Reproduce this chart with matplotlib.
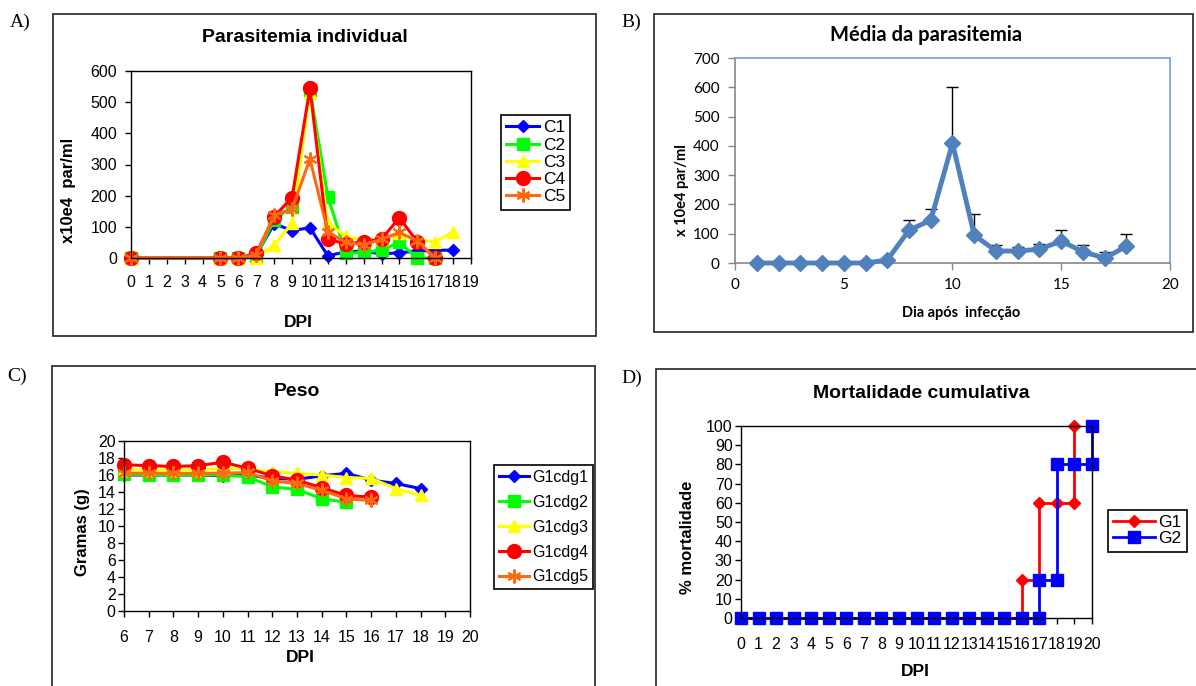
import numpy as np
import matplotlib.pyplot as plt
from matplotlib.patches import Rectangle

W, H = 1196, 686

# ---------------------------
# DATA
# ---------------------------
# A) individual parasitemia (x10e4 par/ml)
dpi_long = [0, 5, 6, 7, 8, 9, 10, 11, 12, 13, 14, 15, 16, 17, 18]
dpi_short = [0, 5, 6, 7, 8, 9, 10, 11, 12, 13, 14, 15, 16, 17]
c1 = [0, 0, 0, 10, 110, 88, 97, 7, 20, 22, 13, 17, 22, 25, 25]
c2 = [0, 0, 0, 5, 122, 165, 540, 197, 15, 18, 26, 50, 0, 0]
c3 = [0, 0, 0, 0, 42, 111, 530, 112, 70, 57, 60, 79, 58, 52, 84]
c4 = [0, 0, 0, 15, 133, 194, 545, 61, 45, 52, 61, 129, 52, 0]
c5 = [0, 0, 0, 10, 137, 157, 318, 84, 50, 42, 60, 82, 55, 0]

# B) mean parasitemia with upper error
mean_day = [1, 2, 3, 4, 5, 6, 7, 8, 9, 10, 11, 12, 13, 14, 15, 16, 17, 18]
mean_par = [0, 0, 0, 0, 0, 0, 10, 112, 146, 409, 95, 41, 41, 47, 75, 38, 17, 57]
mean_err = [0, 0, 0, 0, 0, 0, 0, 34, 40, 191, 71, 22, 12, 19, 37, 25, 21, 43]

# C) weight (g)
peso_13 = [6, 7, 8, 9, 10, 11, 12, 13, 14, 15, 16, 17, 18]
peso_10 = [6, 7, 8, 9, 10, 11, 12, 13, 14, 15]
peso_11 = [6, 7, 8, 9, 10, 11, 12, 13, 14, 15, 16]
g1cdg1 = [16.0, 16.0, 16.0, 16.0, 15.9, 16.0, 15.6, 15.5, 15.9, 16.2, 15.4, 15.0, 14.4]
g1cdg2 = [16.1, 16.0, 16.0, 16.0, 16.0, 15.8, 14.6, 14.3, 13.2, 12.8]
g1cdg3 = [16.6, 16.6, 16.6, 16.6, 16.8, 16.7, 16.4, 16.2, 16.0, 15.7, 15.6, 14.4, 13.6]
g1cdg4 = [17.2, 17.1, 17.0, 17.1, 17.5, 16.8, 15.9, 15.4, 14.5, 13.6, 13.4]
g1cdg5 = [16.2, 16.2, 16.2, 16.2, 16.2, 16.3, 15.3, 15.0, 14.2, 13.2, 13.0]

# D) cumulative mortality (%)
g1_dpi = [0, 1, 2, 3, 4, 5, 6, 7, 8, 9, 10, 11, 12, 13, 14, 15, 16, 16, 17, 17, 18, 19, 19]
g1_mort = [0, 0, 0, 0, 0, 0, 0, 0, 0, 0, 0, 0, 0, 0, 0, 0, 0, 20, 20, 60, 60, 60, 100]
g2_dpi = [0, 1, 2, 3, 4, 5, 6, 7, 8, 9, 10, 11, 12, 13, 14, 15, 16, 17, 17, 18, 18, 19, 20, 20]
g2_mort = [0, 0, 0, 0, 0, 0, 0, 0, 0, 0, 0, 0, 0, 0, 0, 0, 0, 0, 20, 20, 80, 80, 80, 100]

# ---------------------------
# FONTS
# ---------------------------
XL = ['Liberation Sans']
CAL = ['Lato', 'DejaVu Sans']
SERIF = ['Liberation Serif', 'DejaVu Serif']
plt.rcParams['font.family'] = XL

fig = plt.figure(figsize=(W / 100, H / 100), dpi=100)


def ax_at(l, t, r, b):
    return fig.add_axes([l / W, 1 - b / H, (r - l) / W, (b - t) / H])


def frame(l, t, r, b, label, lx, ly):
    fig.add_artist(Rectangle((l / W, 1 - b / H), (r - l) / W, (b - t) / H,
                             transform=fig.transFigure, fill=False,
                             edgecolor='#222222', lw=1.2))
    fig.text(lx / W, 1 - ly / H, label, family=SERIF, fontsize=14,
             ha='left', va='center')


def px_y(y):
    return 1 - y / H


def px_x(x):
    return x / W


def xl_axes(ax):
    for s in ax.spines.values():
        s.set_color('black')
        s.set_linewidth(1.0)
    ax.tick_params(direction='out', length=4, width=1, labelsize=11.5,
                   colors='black', pad=6)


def xl_legend(ax, x, y, size, spacing, hl):
    leg = ax.legend(loc='upper left', bbox_to_anchor=(px_x(x), px_y(y)),
                    bbox_transform=fig.transFigure, borderaxespad=0,
                    fancybox=False, edgecolor='black', framealpha=1,
                    handlelength=hl, handletextpad=0.2, labelspacing=spacing,
                    borderpad=0.3, prop={'family': XL, 'size': size})
    leg.get_frame().set_linewidth(1.2)


frame(53, 14, 596, 336, 'A)', 10, 22)
frame(654, 14, 1193, 332, 'B)', 621, 22)
frame(52, 366, 595, 720, 'C)', 7, 376)
frame(656, 369, 1230, 720, 'D)', 621, 378)

# ---------------------------
# A) PARASITEMIA INDIVIDUAL
# ---------------------------
ax = ax_at(131, 71, 471, 258)
kw = dict(lw=2.2, clip_on=False)
ax.plot(dpi_long, c1, color='#0000FF', marker='D', ms=6, label='C1', **kw)
ax.plot(dpi_short, c2, color='#00FF00', marker='s', ms=9, label='C2', **kw)
ax.plot(dpi_long, c3, color='#FFFF00', marker='^', ms=9, label='C3', **kw)
ax.plot(dpi_short, c4, color='#FF0000', marker='o', ms=10, label='C4', **kw)
ax.plot(dpi_short, c5, color='#FF6A10', marker=(6, 2, 0), ms=10, mew=1.5, label='C5', **kw)
ax.set_xlim(0, 19)
ax.set_ylim(0, 600)
ax.set_xticks(range(0, 20))
ax.set_yticks(range(0, 601, 100))
xl_axes(ax)
ax.tick_params(axis='x', pad=8)
fig.text(px_x(305), px_y(38), 'Parasitemia individual', fontsize=14,
         fontweight='bold', ha='center', va='center')
fig.text(px_x(68), px_y(190), 'x10e4  par/ml', fontsize=12, fontweight='bold',
         rotation=90, ha='center', va='center')
fig.text(px_x(298), px_y(322), 'DPI', fontsize=12.5, fontweight='bold',
         ha='center', va='center')
xl_legend(ax, 501, 115, 12.5, 0.12, 1.9)

# ---------------------------
# B) MEDIA DA PARASITEMIA
# ---------------------------
ax = ax_at(735, 58, 1170, 263)
ax.errorbar(mean_day, mean_par, yerr=[np.zeros(len(mean_err)), mean_err],
            fmt='none', ecolor='black', elinewidth=1, capsize=4, capthick=1,
            zorder=2)
ax.plot(mean_day, mean_par, color='#4F81BD', lw=3.5, marker='D', ms=8,
        zorder=3, clip_on=False)
ax.set_xlim(0, 20)
ax.set_ylim(0, 700)
ax.set_xticks(range(0, 21, 5))
ax.set_yticks(range(0, 701, 100))
for side in ['top', 'right']:
    ax.spines[side].set_color('#7EA6DC')
    ax.spines[side].set_linewidth(1.3)
for side in ['left', 'bottom']:
    ax.spines[side].set_color('#868686')
    ax.spines[side].set_linewidth(1.2)
ax.tick_params(direction='out', length=5, width=1, color='#868686',
               labelsize=11, pad=6)
for t in ax.get_xticklabels() + ax.get_yticklabels():
    t.set_family(CAL)
fig.text(px_x(926), px_y(35), 'Média da parasitemia', family=CAL, fontsize=14.5,
         fontweight='bold', ha='center', va='center')
fig.text(px_x(682), px_y(190), 'x 10e4 par/ml', family=CAL, fontsize=10.5,
         fontweight='bold', rotation=90, ha='center', va='center')
fig.text(px_x(961), px_y(313), 'Dia após  infecção', family=CAL, fontsize=10.5,
         fontweight='bold', ha='center', va='center')

# ---------------------------
# C) PESO
# ---------------------------
ax = ax_at(124, 441, 470, 611)
kw = dict(lw=2.2, clip_on=False)
ax.plot(peso_13, g1cdg1, color='#0000FF', marker='D', ms=6, label='G1cdg1', **kw)
ax.plot(peso_10, g1cdg2, color='#00FF00', marker='s', ms=9, label='G1cdg2', **kw)
ax.plot(peso_13, g1cdg3, color='#FFFF00', marker='^', ms=9, label='G1cdg3', **kw)
ax.plot(peso_11, g1cdg4, color='#FF0000', marker='o', ms=10, label='G1cdg4', **kw)
ax.plot(peso_11, g1cdg5, color='#FF6A10', marker=(6, 2, 0), ms=10, mew=1.5, label='G1cdg5', **kw)
ax.set_xlim(6, 20)
ax.set_ylim(0, 20)
ax.set_xticks(range(6, 21))
ax.set_yticks(range(0, 21, 2))
xl_axes(ax)
ax.tick_params(axis='x', pad=10)
ax.tick_params(axis='y', pad=2)
fig.text(px_x(297), px_y(392), 'Peso', fontsize=14, fontweight='bold',
         ha='center', va='center')
fig.text(px_x(82), px_y(532), 'Gramas (g)', fontsize=12, fontweight='bold',
         rotation=90, ha='center', va='center')
fig.text(px_x(300), px_y(658), 'DPI', fontsize=12.5, fontweight='bold',
         ha='center', va='center')
xl_legend(ax, 494, 465, 11.5, 0.62, 1.9)

# ---------------------------
# D) MORTALIDADE CUMULATIVA
# ---------------------------
ax = ax_at(741, 426, 1092, 618)
ax.plot(g1_dpi, g1_mort, color='#FF0000', lw=2, marker='D', ms=6,
        label='G1', clip_on=False)
ax.plot(g2_dpi, g2_mort, color='#0000FF', lw=2, marker='s', ms=9,
        label='G2', clip_on=False)
ax.set_xlim(0, 20)
ax.set_ylim(0, 100)
ax.set_xticks(range(0, 21))
ax.set_yticks(range(0, 101, 10))
xl_axes(ax)
ax.tick_params(axis='x', pad=10)
ax.tick_params(axis='y', pad=2)
fig.text(px_x(921), px_y(393), 'Mortalidade cumulativa', fontsize=14,
         fontweight='bold', ha='center', va='center')
fig.text(px_x(688), px_y(537), '% mortalidade', fontsize=12, fontweight='bold',
         rotation=90, ha='center', va='center')
fig.text(px_x(915), px_y(672), 'DPI', fontsize=12.5, fontweight='bold',
         ha='center', va='center')
xl_legend(ax, 1108, 510, 12.5, 0.05, 2.4)

fig.savefig('out.png', dpi=100)
